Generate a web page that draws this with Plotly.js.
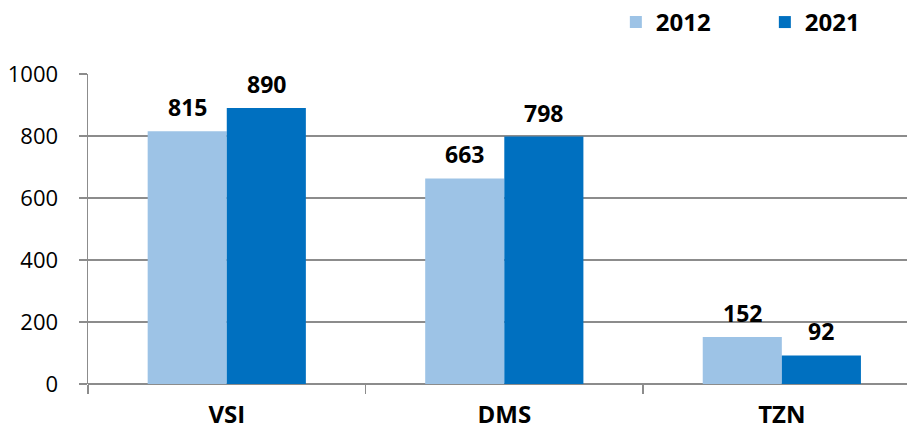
<!DOCTYPE html>
<html>
<head>
<meta charset="utf-8">
<script src="https://cdn.plot.ly/plotly-3.0.1.min.js"></script>
<style>
  html, body { margin: 0; padding: 0; background: #ffffff; }
  #chart { width: 907px; height: 432px; }
</style>
</head>
<body>
<div id="chart"></div>
<script>
// Categories and yearly values
const categories = ['VSI', 'DMS', 'TZN'];
const seriesNames = ['2012', '2021'];
const values2012 = [815, 663, 152];
const values2021 = [890, 798, 92];
const yTicks = [0, 200, 400, 600, 800, 1000];

const FONT = '"Open Sans", "Noto Sans", sans-serif';
const colors = ['#9DC3E6', '#0070C0'];
const allValues = [values2012, values2021];

const traces = allValues.map((vals, i) => ({
  type: 'bar',
  name: seriesNames[i],
  x: categories,
  y: vals,
  marker: { color: colors[i] },
  hoverinfo: 'x+y+name'
}));

// Value labels placed above each bar, centred over its half of the group
const annotations = [];
allValues.forEach((vals, i) => {
  vals.forEach((v, j) => {
    annotations.push({
      x: categories[j],
      y: v,
      xref: 'x',
      yref: 'y',
      text: '<b>' + v + '</b>',
      showarrow: false,
      xanchor: 'center',
      yanchor: 'bottom',
      xshift: (i === 0 ? -1 : 1) * 39.5,
      yshift: 6,
      font: { family: FONT, size: 23, color: '#000000' }
    });
  });
});

const layout = {
  width: 907,
  height: 432,
  margin: { l: 88, r: 0, t: 74, b: 48, pad: 0, autoexpand: false },
  paper_bgcolor: '#ffffff',
  plot_bgcolor: '#ffffff',
  barmode: 'group',
  bargap: 0.43,
  bargroupgap: 0,
  font: { family: FONT, color: '#000000' },
  showlegend: true,
  legend: {
    orientation: 'h',
    xref: 'container',
    yref: 'container',
    x: 0.679,
    xanchor: 'left',
    y: 0.948,
    yanchor: 'middle',
    font: { family: FONT, size: 24, color: '#000000', weight: 'bold' },
    entrywidth: 104,
    traceorder: 'normal',
    bgcolor: 'rgba(0,0,0,0)'
  },
  xaxis: {
    type: 'category',
    range: [-0.5, 2.451],
    showgrid: false,
    showline: false,
    zeroline: false,
    ticks: 'outside',
    tickson: 'boundaries',
    ticklen: 9,
    tickwidth: 1.5,
    tickcolor: '#8c8c8c',
    ticklabelstandoff: 14,
    tickfont: { family: FONT, size: 24, color: '#000000', weight: 'bold' },
    fixedrange: true
  },
  yaxis: {
    range: [0, 1000],
    tickvals: yTicks,
    ticktext: yTicks.map(String),
    showgrid: true,
    gridcolor: '#8c8c8c',
    gridwidth: 1.5,
    zeroline: true,
    zerolinecolor: '#8c8c8c',
    zerolinewidth: 1.5,
    showline: true,
    linecolor: '#8c8c8c',
    linewidth: 1.5,
    ticks: 'outside',
    ticklen: 8,
    tickwidth: 1.5,
    tickcolor: '#8c8c8c',
    ticklabelstandoff: 16,
    tickfont: { family: FONT, size: 22, color: '#000000' },
    fixedrange: true
  },
  annotations: annotations
};

Plotly.newPlot('chart', traces, layout, { displayModeBar: false, staticPlot: true });
</script>
</body>
</html>
